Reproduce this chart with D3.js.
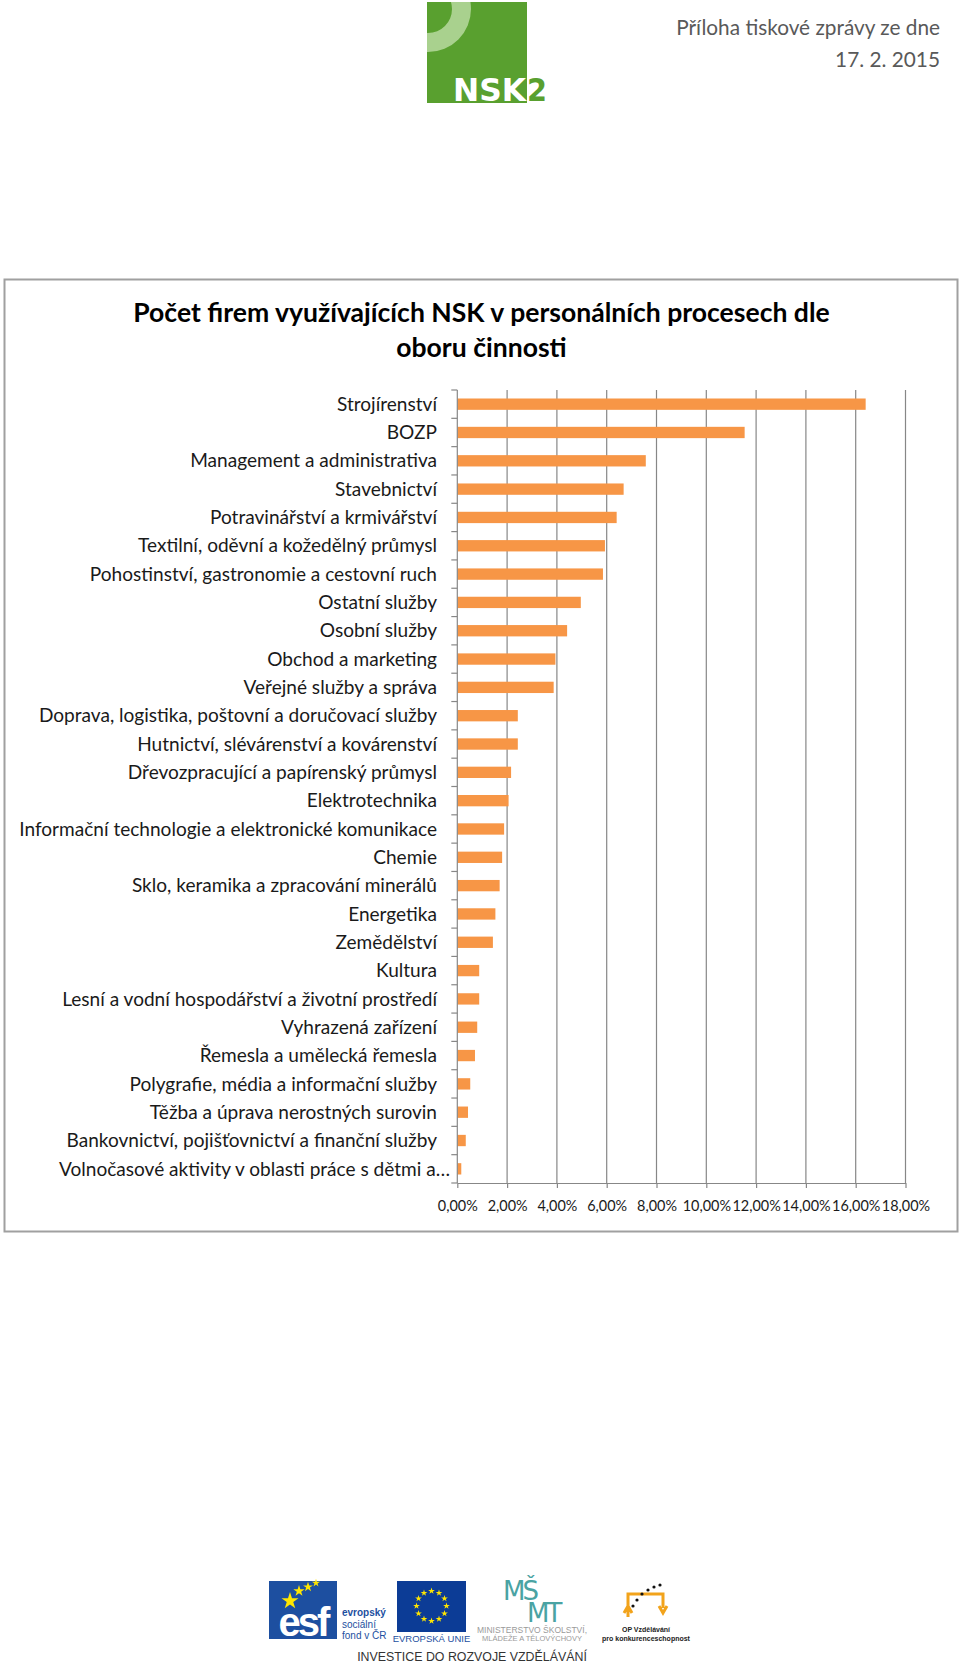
<!DOCTYPE html>
<html>
<head>
<meta charset="utf-8">
<script src="https://cdn.jsdelivr.net/npm/d3@7"></script>
<style>
  html, body { margin: 0; padding: 0; background: #fff; }
  svg { display: block; }
</style>
</head>
<body>
<svg id="chart" width="960" height="1665"></svg>
<script>
const categories = [
  "Strojírenství",
  "BOZP",
  "Management a administrativa",
  "Stavebnictví",
  "Potravinářství a krmivářství",
  "Textilní, oděvní a kožedělný průmysl",
  "Pohostinství, gastronomie a cestovní ruch",
  "Ostatní služby",
  "Osobní služby",
  "Obchod a marketing",
  "Veřejné služby a správa",
  "Doprava, logistika, poštovní a doručovací služby",
  "Hutnictví, slévárenství a kovárenství",
  "Dřevozpracující a papírenský průmysl",
  "Elektrotechnika",
  "Informační technologie a elektronické komunikace",
  "Chemie",
  "Sklo, keramika a zpracování minerálů",
  "Energetika",
  "Zemědělství",
  "Kultura",
  "Lesní a vodní hospodářství a životní prostředí",
  "Vyhrazená zařízení",
  "Řemesla a umělecká řemesla",
  "Polygrafie, média a informační služby",
  "Těžba a úprava nerostných surovin",
  "Bankovnictví, pojišťovnictví a finanční služby",
  "Volnočasové aktivity v oblasti práce s dětmi a…"
];
const values = [16.40, 11.54, 7.57, 6.68, 6.40, 5.93, 5.85, 4.96, 4.41, 3.94, 3.87,
  2.43, 2.43, 2.16, 2.06, 1.88, 1.80, 1.70, 1.53, 1.43, 0.88, 0.88, 0.80, 0.71,
  0.52, 0.43, 0.34, 0.16];
const xTicks = [0, 2, 4, 6, 8, 10, 12, 14, 16, 18];
const xTickLabels = ["0,00%", "2,00%", "4,00%", "6,00%", "8,00%", "10,00%", "12,00%", "14,00%", "16,00%", "18,00%"];
const titleLines = ["Počet firem využívajících NSK v personálních procesech dle", "oboru činnosti"];
const headerLines = ["Příloha tiskové zprávy ze dne", "17. 2. 2015"];

const svg = d3.select("#chart");
const FONT = "Lato, 'Open Sans', sans-serif";

function fitWidth(sel, target) {
  const w = sel.node().getComputedTextLength();
  const fs = parseFloat(sel.attr("font-size"));
  return fs * target / w;
}

// ---------- Header ----------
// NSK2 logo
const logo = svg.append("g");
svg.append("clipPath").attr("id", "logoclip")
  .append("rect").attr("x", 427).attr("y", 2).attr("width", 100).attr("height", 101);
logo.append("rect").attr("x", 427).attr("y", 2).attr("width", 100).attr("height", 101).attr("fill", "#59a02f");
logo.append("g").attr("clip-path", "url(#logoclip)")
  .append("path")
  .attr("d", d3.arc().innerRadius(24).outerRadius(43).startAngle(0).endAngle(Math.PI * 2)())
  .attr("transform", "translate(428,9)")
  .attr("fill", "#a9d18e");
logo.append("text").attr("x", 453).attr("y", 101).attr("font-family", "'DejaVu Sans Condensed', 'Liberation Sans Narrow', sans-serif")
  .attr("font-weight", "bold").attr("font-size", 32).attr("fill", "#fff")
  .attr("textLength", 73).attr("lengthAdjust", "spacingAndGlyphs").text("NSK");
logo.append("text").attr("x", 527).attr("y", 101).attr("font-family", "'DejaVu Sans Condensed', sans-serif")
  .attr("font-weight", "bold").attr("font-size", 32).attr("fill", "#59a02f")
  .attr("textLength", 20).attr("lengthAdjust", "spacingAndGlyphs").text("2");

const h1 = svg.append("text").attr("x", 940).attr("y", 35).attr("text-anchor", "end")
  .attr("font-family", FONT).attr("font-size", 20).attr("fill", "#595959").text(headerLines[0]);
const hfs = fitWidth(h1, 264);
h1.attr("font-size", hfs);
svg.append("text").attr("x", 940).attr("y", 67).attr("text-anchor", "end")
  .attr("font-family", FONT).attr("font-size", hfs).attr("fill", "#595959").text(headerLines[1]);

// ---------- Frame ----------
svg.append("rect").attr("x", 4.5).attr("y", 279.5).attr("width", 953).attr("height", 952)
  .attr("fill", "#fff").attr("stroke", "#a0a0a0").attr("stroke-width", 2);

// ---------- Title ----------
const t1 = svg.append("text").attr("x", 481.5).attr("y", 322).attr("text-anchor", "middle")
  .attr("font-family", FONT).attr("font-weight", "bold").attr("font-size", 24).attr("fill", "#000").text(titleLines[0]);
const tfs = fitWidth(t1, 697);
t1.attr("font-size", tfs);
svg.append("text").attr("x", 481.5).attr("y", 357).attr("text-anchor", "middle")
  .attr("font-family", FONT).attr("font-weight", "bold").attr("font-size", tfs).attr("fill", "#000").text(titleLines[1]);

// ---------- Chart ----------
const x = d3.scaleLinear().domain([0, 18]).range([457.3, 905.5]);
const y = d3.scaleBand().domain(categories).range([390, 1183]).paddingInner(0.6).paddingOuter(0.3);
const gridColor = "#878787";

// gridlines
svg.append("g").selectAll("line").data(xTicks.filter(d => d > 0)).join("line")
  .attr("x1", d => x(d)).attr("x2", d => x(d)).attr("y1", 390).attr("y2", 1183)
  .attr("stroke", gridColor).attr("stroke-width", 1.2);

// bars
svg.append("g").selectAll("rect").data(values).join("rect")
  .attr("x", x(0)).attr("y", (d, i) => y(categories[i]))
  .attr("width", d => x(d) - x(0)).attr("height", y.bandwidth())
  .attr("fill", "#f79646");

// category axis
const step = y.step();
const boundaries = categories.map(c => y(c) - step * y.paddingInner() / 2).concat([1183]);
const ca = svg.append("g");
ca.append("line").attr("x1", x(0)).attr("x2", x(0)).attr("y1", 390).attr("y2", 1183).attr("stroke", gridColor).attr("stroke-width", 1.2);
ca.selectAll("line.t").data(boundaries).join("line").attr("class", "t")
  .attr("x1", x(0) - 6).attr("x2", x(0)).attr("y1", d => d).attr("y2", d => d)
  .attr("stroke", gridColor).attr("stroke-width", 1.2);

const labels = ca.selectAll("text").data(categories).join("text")
  .attr("x", d => d.endsWith("…") ? 450 : 437)
  .attr("y", d => y(d) + y.bandwidth() / 2)
  .attr("dy", "0.35em")
  .attr("text-anchor", "end")
  .attr("font-family", FONT).attr("font-size", 20).attr("fill", "#1a1a1a")
  .text(d => d);
const longest = labels.filter(d => d.startsWith("Informační"));
const lfs = fitWidth(longest, 418);
labels.attr("font-size", lfs);

// value axis
const xAxis = d3.axisBottom(x).tickValues(xTicks).tickSize(5).tickSizeOuter(0)
  .tickFormat((d, i) => xTickLabels[i]);
const xa = svg.append("g").attr("transform", "translate(0,1183)").call(xAxis);
xa.select(".domain").attr("stroke", gridColor).attr("stroke-width", 1.2);
xa.selectAll(".tick line").attr("stroke", gridColor).attr("stroke-width", 1.2);
const tickTexts = xa.selectAll(".tick text").attr("font-family", FONT).attr("font-size", lfs)
  .attr("fill", "#1a1a1a").attr("y", 18);
// shrink so the widest tick label fits within one tick interval
const widest = tickTexts.filter((d, i) => i === 5);
const tickFs = Math.min(lfs, fitWidth(widest, (x(2) - x(0)) - 1.5));
tickTexts.attr("font-size", tickFs);

// ---------- Footer logos ----------
const f = svg.append("g");
// ESF
f.append("rect").attr("x", 269).attr("y", 1581).attr("width", 68).attr("height", 58).attr("fill", "#1d4fa0");
f.append("text").attr("x", 303).attr("y", 1636).attr("text-anchor", "middle")
  .attr("font-family", "'Liberation Sans', sans-serif").attr("font-weight", "bold").attr("font-size", 40)
  .attr("letter-spacing", -3).attr("fill", "#fff").text("esf");
const star = d3.symbol().type(d3.symbolStar);
[[290, 1601, 90], [299, 1591, 40], [308, 1587, 30], [316, 1583, 20]].forEach(s => {
  f.append("path").attr("d", star.size(s[2])()).attr("transform", `translate(${s[0]},${s[1]})`).attr("fill", "#ffe600");
});
["evropský", "sociální", "fond v ČR"].forEach((t, i) => {
  f.append("text").attr("x", 342).attr("y", 1616 + i * 11.5).attr("font-family", "'Liberation Sans', sans-serif")
    .attr("font-size", 10).attr("font-weight", i === 0 ? "bold" : "normal").attr("fill", "#1d4fa0").text(t);
});
// EU
f.append("rect").attr("x", 397).attr("y", 1581).attr("width", 69).attr("height", 51).attr("fill", "#0c3c96");
d3.range(12).forEach(k => {
  const a = k * Math.PI / 6;
  f.append("path").attr("d", star.size(14)()).attr("transform", `translate(${431.5 + 15 * Math.sin(a)},${1606 - 15 * Math.cos(a)})`).attr("fill", "#ffe600");
});
f.append("text").attr("x", 431.5).attr("y", 1642).attr("text-anchor", "middle").attr("font-family", "'Liberation Sans', sans-serif")
  .attr("font-size", 9.5).attr("fill", "#1d4fa0").text("EVROPSKÁ UNIE");
// MSMT
f.append("text").attr("x", 503).attr("y", 1600).attr("font-family", "'DejaVu Sans', sans-serif")
  .attr("font-size", 26).attr("fill", "#4aa3a3").attr("letter-spacing", -3).text("MŠ");
f.append("text").attr("x", 527).attr("y", 1622).attr("font-family", "'DejaVu Sans', sans-serif")
  .attr("font-size", 26).attr("fill", "#4aa3a3").attr("letter-spacing", -3).text("MT");
f.append("text").attr("x", 532).attr("y", 1633).attr("text-anchor", "middle").attr("font-family", "'Liberation Sans', sans-serif")
  .attr("font-size", 8.5).attr("fill", "#9a9a9a").text("MINISTERSTVO ŠKOLSTVÍ,");
f.append("text").attr("x", 532).attr("y", 1641).attr("text-anchor", "middle").attr("font-family", "'Liberation Sans', sans-serif")
  .attr("font-size", 7.5).attr("fill", "#9a9a9a").text("MLÁDEŽE A TĚLOVÝCHOVY");
// OP
f.append("path").attr("d", "M628,1617 L628,1594 L663,1594 L663,1608 M624,1613 L628,1606 L632,1613 M659,1606 L663,1613 L667,1606")
  .attr("fill", "none").attr("stroke", "#f2a31b").attr("stroke-width", 3);
[[633, 1606], [637, 1600], [642, 1594], [648, 1590], [654, 1587], [660, 1585]].forEach(p => {
  f.append("circle").attr("cx", p[0]).attr("cy", p[1]).attr("r", 1.6).attr("fill", "#111");
});
f.append("text").attr("x", 646).attr("y", 1632).attr("text-anchor", "middle").attr("font-family", "'Liberation Sans', sans-serif")
  .attr("font-size", 7).attr("font-weight", "bold").attr("fill", "#222").text("OP Vzdělávání");
f.append("text").attr("x", 646).attr("y", 1641).attr("text-anchor", "middle").attr("font-family", "'Liberation Sans', sans-serif")
  .attr("font-size", 7).attr("font-weight", "bold").attr("fill", "#222").text("pro konkurenceschopnost");
const inv = f.append("text").attr("x", 472).attr("y", 1661).attr("text-anchor", "middle").attr("font-family", "'Liberation Sans', sans-serif")
  .attr("font-size", 12).attr("fill", "#333").text("INVESTICE DO ROZVOJE VZDĚLÁVÁNÍ");
inv.attr("font-size", fitWidth(inv, 230));
</script>
</body>
</html>
